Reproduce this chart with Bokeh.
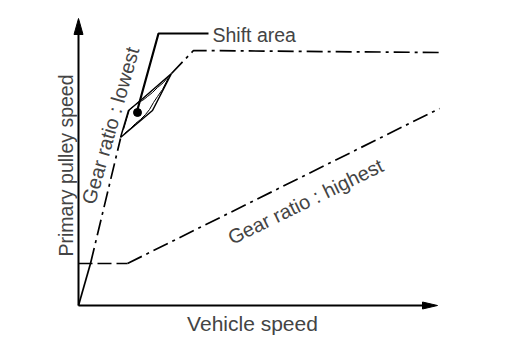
from bokeh.plotting import figure
from bokeh.models import Range1d, Label
from bokeh.embed import file_html
from bokeh.resources import INLINE

# ---- data (units: vehicle speed / pulley speed, arbitrary) ----
idle_x = [0, 12]
idle_y = [0, 42]

lowest_x = [12, 42]
lowest_y = [42, 167]
lowest_top_x = [93, 115, 362]
lowest_top_y = [232, 255, 253]

highest_flat_x = [0, 49]
highest_flat_y = [42, 42]
highest_x = [49, 361]
highest_y = [42, 197]

lens_x = [42, 50, 62, 93, 74, 42]
lens_y = [168, 195, 205, 232, 195, 168]
inner_a_x = [45, 51, 55, 59, 64, 69, 74, 79, 85, 90]
inner_a_y = [176, 196, 199, 203, 205, 209, 213, 218, 223, 229]
inner_b_x = [46, 52, 57, 62, 67, 71, 75, 79, 84, 90]
inner_b_y = [172, 177, 182, 186, 191, 196, 203, 209, 216, 228]
dot_x = [59]
dot_y = [193]

leader_x = [59, 80, 130]
leader_y = [196, 272, 272]

x_axis_len = 359
y_axis_len = 287
head_len_x, head_w_x = 15, 7
head_len_y, head_w_y = 16, 9

p = figure(width=496, height=348, output_backend="svg", toolbar_location=None,
           x_range=Range1d(-78, 418), y_range=Range1d(-43, 305), min_border=0)
p.axis.visible = False
p.grid.visible = False
p.outline_line_color = None
p.background_fill_color = "white"

# axes
p.line([0, x_axis_len - head_len_x + 2], [0, 0], line_color="black", line_width=2)
p.line([0, 0], [0, y_axis_len - head_len_y + 2], line_color="black", line_width=2)
p.patch([x_axis_len - head_len_x, x_axis_len, x_axis_len - head_len_x],
        [head_w_x / 2, 0, -head_w_x / 2], color="black")
p.patch([-head_w_y / 2, 0, head_w_y / 2],
        [y_axis_len - head_len_y, y_axis_len, y_axis_len - head_len_y], color="black")

dd = "16 5 3 5"
lw = 1.7
p.line(idle_x, idle_y, line_color="black", line_width=lw)
p.line(lowest_x, lowest_y, line_color="black", line_width=lw, line_dash=dd)
p.line(lowest_top_x, lowest_top_y, line_color="black", line_width=lw, line_dash=dd)
p.line(highest_flat_x, highest_flat_y, line_color="black", line_width=lw, line_dash="14 5")
p.line(highest_x, highest_y, line_color="black", line_width=lw, line_dash=dd)

# shift area
p.line(lens_x, lens_y, line_color="black", line_width=1.5)
p.line(inner_a_x, inner_a_y, line_color="black", line_width=1)
p.line(inner_b_x, inner_b_y, line_color="black", line_width=1)
p.scatter(dot_x, dot_y, size=8, color="black")
p.line(leader_x, leader_y, line_color="black", line_width=2.2)

font = "Liberation Sans"
p.add_layout(Label(x=134, y=271, text="Shift area", text_font=font, text_font_size="19.5px",
                   text_baseline="middle", text_align="left"))
p.add_layout(Label(x=174, y=-18, text="Vehicle speed", text_font=font, text_font_size="21px",
                   text_baseline="middle", text_align="center"))
p.add_layout(Label(x=-13, y=140, text="Primary pulley speed", text_font=font, text_font_size="19.5px",
                   text_baseline="middle", text_align="center", angle=90, angle_units="deg"))
p.add_layout(Label(x=32, y=180, text="Gear ratio : lowest", text_font=font, text_font_size="20px",
                   text_baseline="middle", text_align="center", angle=74, angle_units="deg"))
p.add_layout(Label(x=227, y=104, text="Gear ratio : highest", text_font=font, text_font_size="20px",
                   text_baseline="middle", text_align="center", angle=26, angle_units="deg"))

open("out.html", "w").write(file_html(p, INLINE))
